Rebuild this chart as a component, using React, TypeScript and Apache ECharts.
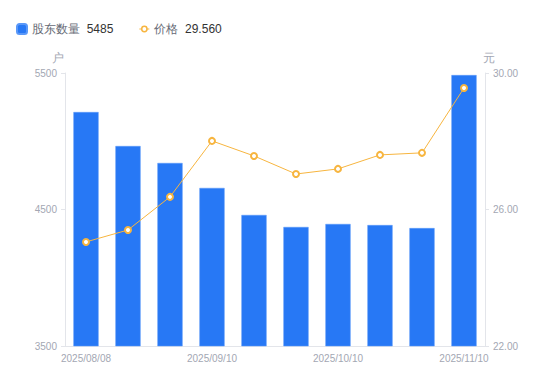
import React, { useEffect, useRef } from "react";
import * as echarts from "echarts";

const categories = [
  "2025/08/08", "2025/08/20", "2025/08/29", "2025/09/10", "2025/09/19",
  "2025/09/30", "2025/10/10", "2025/10/20", "2025/10/31", "2025/11/10",
];
const holders = [5214, 4965, 4841, 4658, 4460, 4372, 4394, 4386, 4364, 5485];
const prices = [25.05, 25.4, 26.37, 28.01, 27.57, 27.04, 27.19, 27.6, 27.66, 29.56];

const latest: Record<string, string> = {
  "股东数量": String(holders[holders.length - 1]),
  "价格": prices[prices.length - 1].toFixed(3),
};

const lineIcon =
  "path://M0,4.4 h2 v1.2 h-2 Z M8,4.4 h2 v1.2 h-2 Z M5,1.6 a3.4,3.4 0 1,1 0,6.8 a3.4,3.4 0 1,1 0,-6.8 Z M5,3.1 a1.9,1.9 0 1,0 0,3.8 a1.9,1.9 0 1,0 0,-3.8 Z";

export default function App() {
  const ref = useRef<HTMLDivElement>(null);
  useEffect(() => {
    document.body.style.margin = "0";
    const chart = echarts.init(ref.current!, undefined, { renderer: "svg" });
    const axisLabelColor = "#a3a7b3";
    const axisLineColor = "#e3e5ea";
    chart.setOption({
      animation: false,
      legend: {
        left: 11,
        top: 18,
        itemWidth: 10,
        itemHeight: 10,
        itemGap: 26,
        formatter: (name: string) => `{n|${name}}  {v|${latest[name]}}`,
        textStyle: {
          rich: {
            n: { fontSize: 12, color: "#666a75" },
            v: { fontSize: 12, color: "#333333" },
          },
        },
        data: [
          { name: "股东数量", icon: "roundRect" },
          { name: "价格", icon: lineIcon },
        ],
      },
      grid: { left: 65, right: 65, top: 73, bottom: 35 },
      xAxis: {
        type: "category",
        data: categories,
        axisLine: { lineStyle: { color: axisLineColor } },
        axisTick: { show: false },
        axisLabel: {
          color: axisLabelColor,
          fontSize: 10,
          interval: 2,
          margin: 7,
        },
      },
      yAxis: [
        {
          type: "value",
          name: "户",
          min: 3500,
          max: 5500,
          interval: 1000,
          nameTextStyle: { color: axisLabelColor, fontSize: 12, padding: [0, 15, 0, 0] },
          nameGap: 9,
          axisLine: { show: true, lineStyle: { color: axisLineColor } },
          axisTick: { show: true, length: 4, lineStyle: { color: axisLineColor } },
          splitLine: { show: false },
          axisLabel: {
            color: axisLabelColor,
            fontSize: 10,
            margin: 8,
            formatter: (v: number) => String(v),
          },
        },
        {
          type: "value",
          name: "元",
          min: 22,
          max: 30,
          interval: 4,
          nameTextStyle: { color: axisLabelColor, fontSize: 12, padding: [0, 0, 0, 8] },
          nameGap: 9,
          axisLine: { show: true, lineStyle: { color: axisLineColor } },
          axisTick: { show: true, length: 4, lineStyle: { color: axisLineColor } },
          splitLine: { show: false },
          axisLabel: {
            color: axisLabelColor,
            fontSize: 10,
            margin: 8,
            formatter: (v: number) => v.toFixed(2),
          },
        },
      ],
      series: [
        {
          name: "股东数量",
          type: "bar",
          data: holders,
          barWidth: "60%",
          itemStyle: { color: "#2778f5", borderColor: "#5a98f8", borderWidth: 0.5 },
        },
        {
          name: "价格",
          type: "line",
          yAxisIndex: 1,
          data: prices,
          symbol: "emptyCircle",
          symbolSize: 6,
          lineStyle: { color: "#f7b53f", width: 1 },
          itemStyle: { color: "#f7b53f", borderWidth: 2 },
        },
      ],
    });
    return () => chart.dispose();
  }, []);
  return <div ref={ref} style={{ width: 550, height: 381 }} />;
}
